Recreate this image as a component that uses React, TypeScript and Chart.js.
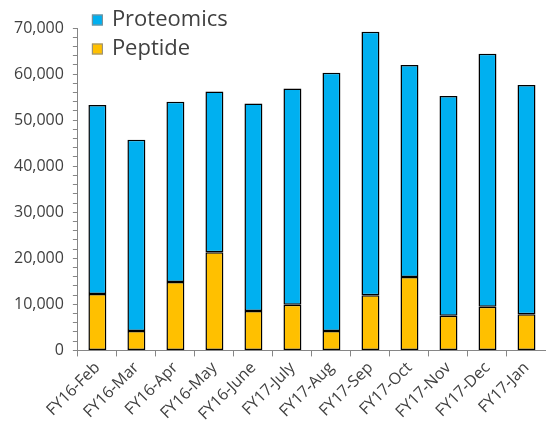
import React, { useEffect, useRef } from "react";
import { Chart, registerables } from "chart.js";

Chart.register(...registerables);

const categories = [
  "FY16-Feb", "FY16-Mar", "FY16-Apr", "FY16-May", "FY16-June", "FY17-July",
  "FY17-Aug", "FY17-Sep", "FY17-Oct", "FY17-Nov", "FY17-Dec", "FY17-Jan",
];
const peptide = [12240, 4200, 14850, 21300, 8550, 9930, 4200, 11960, 15940, 7540, 9490, 7830];
const proteomics = [41020, 41520, 39130, 34940, 45080, 46960, 56090, 57240, 46020, 47680, 54930, 49780];
const legendLabels = ["Proteomics", "Peptide"];

const BLUE = "#00B0F0";
const GOLD = "#FFC000";
const AXIS = "#868686";
const TEXT = "#404040";
const FONT = "'Open Sans', 'Noto Sans', sans-serif";

const legendPlugin = {
  id: "customLegend",
  afterDraw(chart: any) {
    const ctx = chart.ctx;
    const left = chart.chartArea.left;
    const colors = [BLUE, GOLD];
    ctx.save();
    ctx.font = `22px ${FONT}`;
    ctx.textBaseline = "middle";
    ctx.textAlign = "left";
    legendLabels.forEach((label, i) => {
      const cy = 20 + i * 29;
      ctx.fillStyle = colors[i];
      ctx.fillRect(left + 14, cy - 5.5, 11, 11);
      ctx.strokeStyle = "#8c8c8c";
      ctx.lineWidth = 1;
      ctx.strokeRect(left + 14.5, cy - 5, 10, 10);
      ctx.fillStyle = TEXT;
      ctx.fillText(label, left + 34, cy);
    });
    ctx.restore();
  },
};

export default function App() {
  const ref = useRef<HTMLCanvasElement | null>(null);
  useEffect(() => {
    document.body.style.margin = "0";
    document.body.style.overflow = "hidden";
    if (!ref.current) return;
    const chart = new Chart(ref.current, {
      type: "bar",
      data: {
        labels: categories,
        datasets: [
          {
            label: "Peptide",
            data: peptide,
            backgroundColor: GOLD,
            borderColor: "#000000",
            borderWidth: 1.5,
            borderSkipped: false,
          },
          {
            label: "Proteomics",
            data: proteomics,
            backgroundColor: BLUE,
            borderColor: "#000000",
            borderWidth: 1.5,
            borderSkipped: false,
          },
        ],
      },
      options: {
        animation: false,
        responsive: true,
        maintainAspectRatio: false,
        layout: { padding: { left: 5, top: 28, right: 0, bottom: 0 } },
        datasets: { bar: { categoryPercentage: 1, barPercentage: 0.46 } },
        plugins: { legend: { display: false }, tooltip: { enabled: false } },
        scales: {
          x: {
            stacked: true,
            grid: { display: true, drawOnChartArea: false, offset: true, tickLength: 6, color: AXIS },
            border: { display: true, color: AXIS },
            ticks: {
              minRotation: 45,
              maxRotation: 45,
              autoSkip: false,
              padding: 2,
              color: TEXT,
              font: { family: FONT, size: 16 },
            },
          },
          y: {
            stacked: true,
            min: 0,
            max: 70000,
            grid: { display: true, drawOnChartArea: false, tickLength: 5, color: AXIS },
            border: { display: true, color: AXIS },
            ticks: {
              stepSize: 2000,
              autoSkip: false,
              padding: 9,
              color: TEXT,
              font: { family: FONT, size: 16 },
              callback: (v: any) => (Number(v) % 10000 === 0 ? Number(v).toLocaleString("en-US") : ""),
            },
          },
        },
      },
      plugins: [legendPlugin],
    });
    return () => chart.destroy();
  }, []);
  return (
    <div style={{ width: 546, height: 426, position: "relative" }}>
      <canvas ref={ref} />
    </div>
  );
}
